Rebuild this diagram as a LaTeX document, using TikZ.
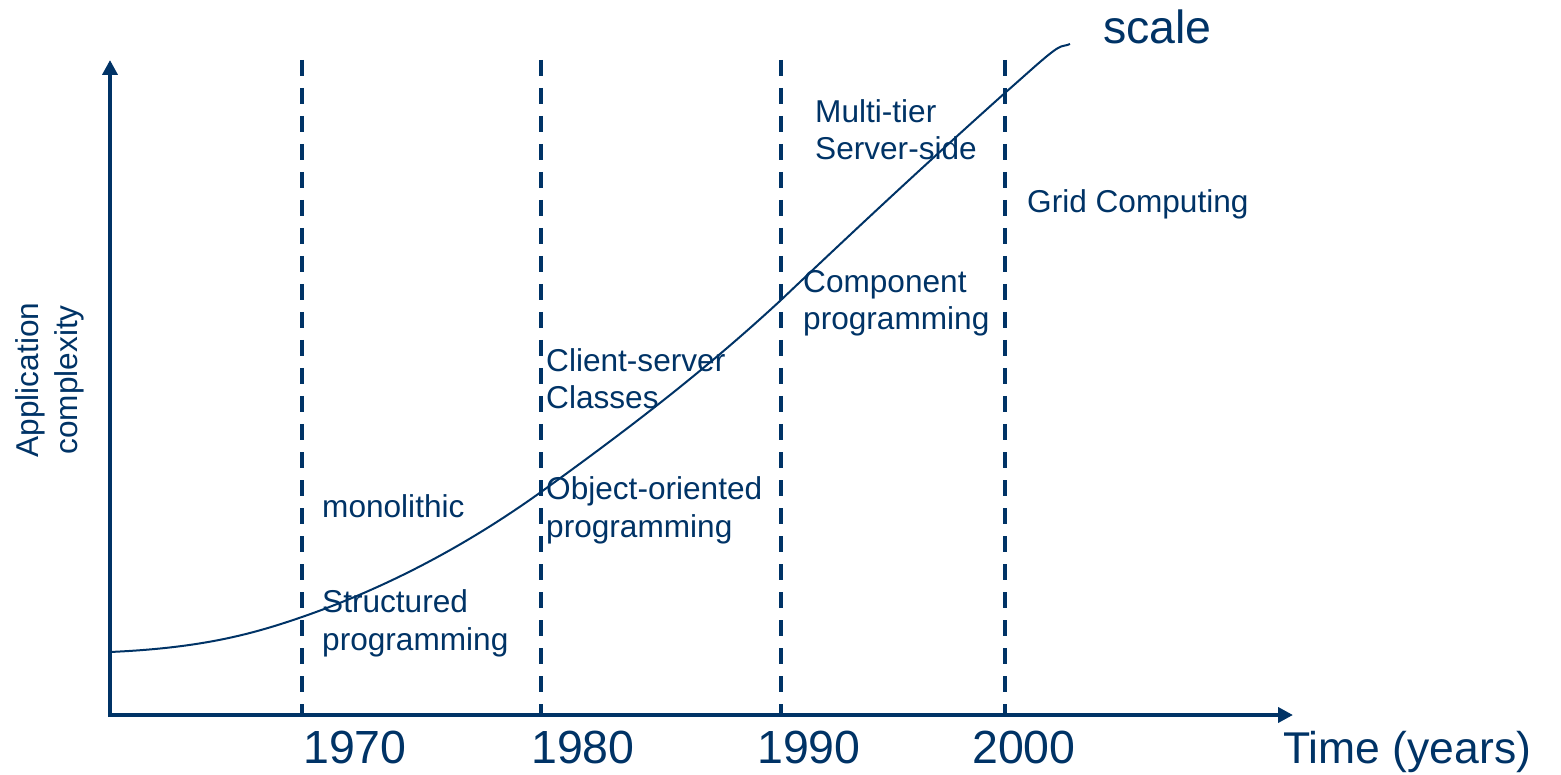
\documentclass[tikz,border=0pt]{standalone}
\usepackage{fontspec}
\setmainfont{Liberation Sans}
\usetikzlibrary{arrows.meta}
\definecolor{navy}{RGB}{0,51,102}
\begin{document}
\begin{tikzpicture}[x=1pt,y=-1pt,
  lbl/.style={inner sep=0pt, anchor=base west, align=left, text=navy, font=\fontsize{31.6}{37.5}\selectfont},
  big/.style={inner sep=0pt, anchor=base west, text=navy, font=\fontsize{46.5}{52}\selectfont},
  axis/.style={draw=navy, line width=4pt, -{Triangle[length=15pt,width=15pt]}},
  era/.style={draw=navy, line width=4pt, dash pattern=on 16pt off 12pt},
  curve/.style={draw=navy, line width=2pt}]
\path[use as bounding box] (0,0) rectangle (1561,775);
% axes
\coordinate (O) at (110,717);
\coordinate (ytop) at (110,60);
\coordinate (xend) at (1293,715);
\draw[axis] (110,717) -- (ytop);
\draw[axis] (108,715) -- (xend);
% era lines
\foreach \n/\x in {a/302,b/541,c/781,d/1005}{
  \coordinate (\n top) at (\x,60);
  \coordinate (\n bot) at (\x,713);
  \draw[era] (\n top) -- (\n bot);
}
% curve
\coordinate (c0) at (110,652);
\coordinate (c5) at (1070,44);
\draw[curve] (c0) .. controls (200,648) and (250,635) .. (302,617)
  .. controls (380,590) and (460,550) .. (541,492)
  .. controls (620,435) and (700,375) .. (781,300)
  .. controls (860,225) and (930,160) .. (1006,92)
  .. controls (1030,71) and (1048,54) .. (1058,48)
  .. controls (1063,45) and (1066,46) .. (c5);
% labels (multi-line nodes anchored at the baseline of their last line)
\node[lbl] (mono) at (322,517) {monolithic};
\node[lbl] (struct) at (322,650) {Structured\\programming};
\node[lbl] (cs) at (546,409) {Client-server\\Classes};
\node[lbl] (oo) at (546,537) {Object-oriented\\programming};
\node[lbl] (comp) at (803,330) {Component\\programming};
\node[lbl] (multi) at (815,160) {Multi-tier\\Server-side};
\node[lbl] (grid) at (1027,213) {Grid Computing};
\node[big] (scale) at (1103,44) {scale};
\node[big] (y70) at (303,763) {1970};
\node[big] (y80) at (531,763) {1980};
\node[big] (y90) at (757,763) {1990};
\node[big] (y00) at (972,763) {2000};
\node[big, font=\fontsize{44.5}{50}\selectfont] (time) at (1283,763) {Time (years)};
\node[inner sep=0pt, align=center, rotate=90, text=navy, font=\fontsize{31.6}{39}\selectfont] (ylab) at (50,380) {Application\\complexity};
\end{tikzpicture}
\end{document}
